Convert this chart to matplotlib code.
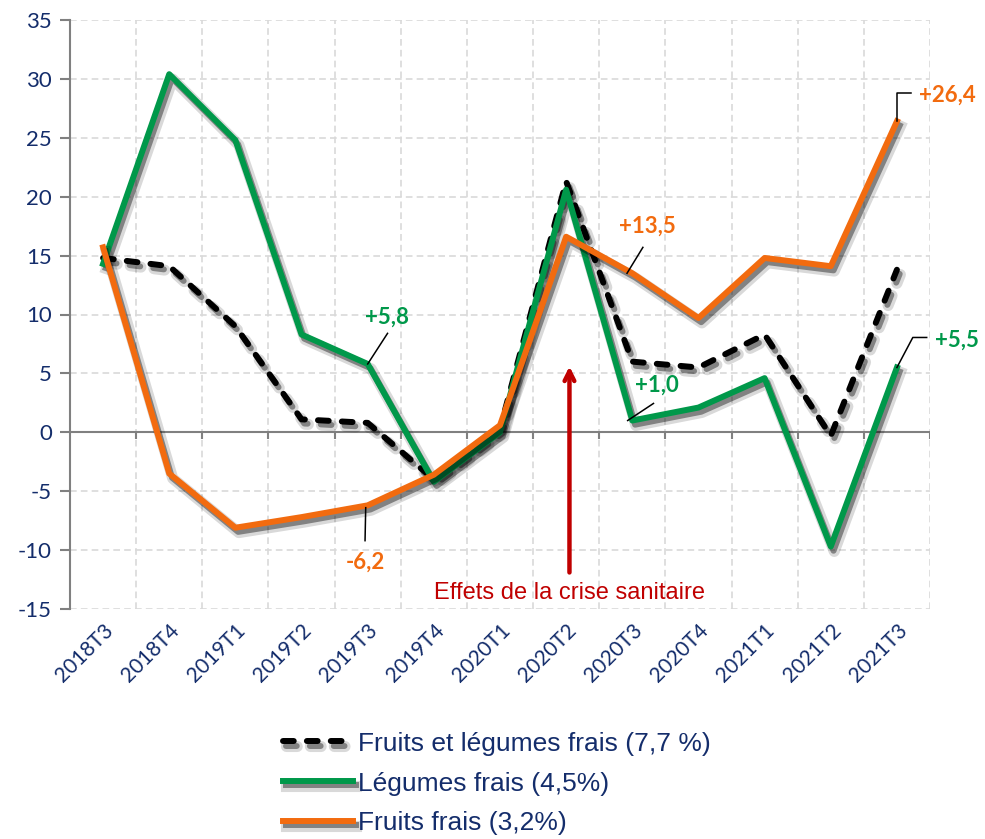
import matplotlib
matplotlib.use("Agg")
import matplotlib.pyplot as plt
import matplotlib.patheffects as pe
import numpy as np

plt.rcParams["axes.unicode_minus"] = False

# Data
quarters = ["2018T3", "2018T4", "2019T1", "2019T2", "2019T3", "2019T4", "2020T1",
            "2020T2", "2020T3", "2020T4", "2021T1", "2021T2", "2021T3"]
fruits_legumes = [14.8, 14.1, 9.0, 1.1, 0.8, -4.0, 0.3, 21.3, 6.0, 5.5, 8.3, -0.3, 13.8]
legumes = [14.3, 30.4, 24.8, 8.3, 5.8, -4.2, 0.0, 20.6, 1.0, 2.1, 4.6, -9.7, 5.5]
fruits = [15.7, -3.5, -8.1, -7.2, -6.2, -3.6, 0.6, 16.6, 13.5, 9.7, 14.8, 14.1, 26.4]
series_labels = ["Fruits et légumes frais (7,7 %)", "Légumes frais (4,5%)", "Fruits frais (3,2%)"]

NAVY = "#142d6b"
GREEN = "#00984a"
ORANGE = "#f26b0f"
RED = "#c00000"

fig = plt.figure(figsize=(9.85, 8.39), dpi=100)
ax = fig.add_axes([70 / 985, 1 - 609 / 839, 860 / 985, 589 / 839])

x = np.arange(len(quarters))
shadow = [
    pe.SimpleLineShadow(offset=(2.5, -3.5), shadow_color="#000000", alpha=0.15, linewidth=8),
    pe.SimpleLineShadow(offset=(2, -3), shadow_color="#000000", alpha=0.4),
    pe.Normal(),
]

lw = 4.3
l1, = ax.plot(x, fruits_legumes, color="black", lw=lw, ls=(0, (1.8, 2.2)),
              dash_capstyle="round", path_effects=shadow, zorder=3)
l2, = ax.plot(x, legumes, color=GREEN, lw=lw, path_effects=shadow, zorder=4)
l3, = ax.plot(x, fruits, color=ORANGE, lw=lw, path_effects=shadow, zorder=5)

ax.set_xlim(-0.5, len(quarters) - 0.5)
ax.set_ylim(-15, 35)
ax.set_yticks(np.arange(-15, 36, 5))
ax.set_xticks(x)
ax.set_xticklabels(quarters, rotation=45, ha="right", va="top", rotation_mode="anchor",
                   fontfamily="Lato", fontsize=15, color=NAVY)
ax.tick_params(axis="x", length=0, pad=8)
ax.tick_params(axis="y", length=7, width=1.5, color="#808080", labelsize=16,
               labelcolor=NAVY, pad=6)
for lab in ax.get_yticklabels():
    lab.set_fontfamily("Lato")

# grid
bounds = np.arange(-0.5, len(quarters), 1.0)
for b in bounds[1:]:
    ax.axvline(b, color="#d9d9d9", lw=1.2, ls=(0, (4, 2.5)), zorder=0)
for yv in np.arange(-15, 36, 5):
    if yv != 0:
        ax.axhline(yv, color="#d9d9d9", lw=1.2, ls=(0, (4, 2.5)), zorder=0)
for side in ["top", "right", "bottom"]:
    ax.spines[side].set_visible(False)
ax.spines["left"].set_color("#808080")
ax.spines["left"].set_linewidth(1.5)

# zero axis with tick marks below
ax.axhline(0, color="#808080", lw=1.5, zorder=1)
ax.vlines(bounds[1:], -0.6, 0, color="#808080", lw=1.5, zorder=1)

# annotations
lbl = dict(fontfamily="Lato", fontweight="bold", fontsize=16, ha="center", va="center")
ax.text(4.29, 9.8, "+5,8", color=GREEN, **lbl)
ax.plot([4.0, 4.3], [5.8, 8.4], color="black", lw=1.1, zorder=6)
ax.text(3.96, -11.0, "-6,2", color=ORANGE, **lbl)
ax.plot([3.97, 3.96], [-6.4, -9.2], color="black", lw=1.1, zorder=6)
ax.text(8.23, 17.5, "+13,5", color=ORANGE, **lbl)
ax.plot([7.92, 8.16], [13.5, 15.7], color="black", lw=1.1, zorder=6)
ax.text(8.37, 4.0, "+1,0", color=GREEN, **lbl)
ax.plot([7.93, 8.32], [1.0, 2.45], color="black", lw=1.1, zorder=6)
ax.text(12.34, 28.6, "+26,4", color=ORANGE, clip_on=False,
        **{**lbl, "ha": "left"})
ax.plot([12.0, 12.0, 12.22], [26.4, 28.8, 28.8], color="black", lw=1.1, zorder=6, clip_on=False)
ax.text(12.57, 7.8, "+5,5", color=GREEN, clip_on=False, **{**lbl, "ha": "left"})
ax.plot([12.0, 12.24, 12.45], [5.5, 8.05, 8.05], color="black", lw=1.1, zorder=6, clip_on=False)

ax.annotate("", xy=(7.05, 5.6), xytext=(7.05, -11.9),
            arrowprops=dict(arrowstyle="->,head_length=0.7,head_width=0.35",
                            color=RED, lw=3.2, shrinkA=0, shrinkB=0), zorder=6)
ax.text(7.05, -13.65, "Effets de la crise sanitaire", color=RED, fontfamily="Liberation Sans",
        fontsize=17, ha="center", va="center")

fig.legend([l1, l2, l3], series_labels, loc="center left",
           bbox_to_anchor=(283 / 985, 1 - 783.5 / 839), frameon=False,
           prop=dict(family="Liberation Sans", size=19), labelcolor=NAVY,
           handlelength=2.65, handletextpad=0.2, labelspacing=0.6,
           borderpad=0, borderaxespad=0)

fig.savefig("out.png", dpi=100)
